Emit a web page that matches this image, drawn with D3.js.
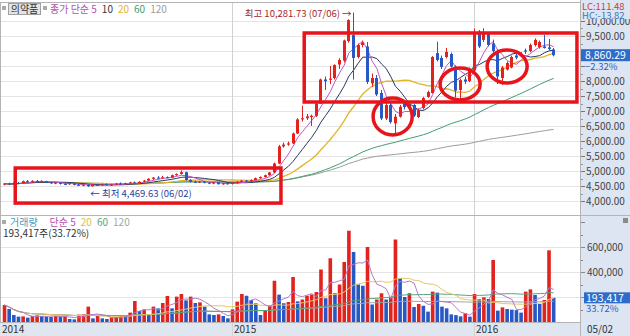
<!DOCTYPE html>
<html>
<head>
<meta charset="utf-8">
<script src="https://cdn.jsdelivr.net/npm/d3@7"></script>
<style>
  body { margin: 0; background: #fff; }
  svg { display: block; font-family: "Noto Sans CJK KR", "Noto Sans", sans-serif; }
</style>
</head>
<body>
<div id="chart"></div>
<script>
// weekly candles, 2014-01-27 .. 2016-05-02
const firstWeek = new Date(2014, 0, 27);
const lastWeek = new Date(2016, 4, 2);

const open = [4560,4580,4550,4600,4590,4660,4640,4670,4650,4660,4620,4590,4610,4570,4560,4590,4540,4520,4540,4490,
  4540,4520,4560,4530,4550,4580,4570,4590,4620,4600,4640,4680,4740,4780,4770,4790,4780,4860,4900,4960,
  4700,4640,4620,4650,4610,4580,4620,4560,4590,4570,4600,4640,4680,4650,4700,4760,4800,4860,4950,5250,
  5820,5880,5920,6250,6720,6760,6800,6840,7250,8050,8040,8100,8550,8680,9330,9530,8800,9200,9150,7920,
  8100,7600,6750,7200,6590,6810,7250,7130,7200,6800,7100,7470,7600,8930,8770,8800,8900,8480,7700,8050,
  8000,8350,9650,9370,9560,9250,9000,8100,8380,8450,8850,8900,9020,9000,9200,9130,9150,9120,9050];
const high = [4600,4610,4620,4640,4680,4700,4690,4700,4690,4670,4640,4630,4620,4600,4610,4600,4570,4560,4560,4560,
  4570,4580,4590,4570,4600,4620,4610,4640,4650,4660,4700,4760,4800,4830,4840,4820,4880,4920,5020,4980,
  4730,4680,4670,4670,4630,4640,4640,4610,4610,4620,4660,4700,4700,4720,4780,4820,4880,4970,5280,5870,
  5950,5980,6280,6760,7180,6900,6880,7280,8080,8150,8500,8560,8760,9380,10060,10281.73,9250,9350,9300,8250,
  8200,7700,7300,7280,6900,7200,7350,7260,7230,7080,7470,7680,8830,9310,8850,9100,8950,8520,8080,8150,
  8450,9750,9700,9760,9600,9380,9050,8500,8650,8850,8920,8960,9080,9250,9420,9350,9530,9400,9100];
const low = [4520,4530,4540,4570,4580,4620,4610,4630,4620,4600,4570,4560,4550,4530,4540,4520,4500,4490,4469.63,4480,
  4500,4510,4520,4500,4530,4550,4540,4570,4580,4590,4620,4660,4700,4740,4750,4760,4770,4840,4880,4680,
  4620,4600,4600,4590,4560,4560,4550,4540,4550,4550,4580,4620,4630,4640,4690,4740,4780,4840,4930,5230,
  5780,5840,5900,6230,6650,6700,6500,6800,7230,7700,7900,8050,8400,8620,9280,8050,8750,9120,7900,7800,
  7500,6700,6700,6580,6256,6780,7050,7080,6800,6760,7050,7440,7580,8650,8400,8750,8450,7450,7400,7900,
  7960,8300,9100,9300,9150,8950,7900,7870,8350,8420,8720,8800,8900,8960,9150,9080,9080,9030,8820];
const close = [4580,4550,4600,4590,4660,4640,4670,4650,4660,4620,4590,4610,4570,4560,4590,4540,4520,4540,4490,4540,
  4520,4560,4530,4550,4580,4570,4590,4620,4600,4640,4680,4740,4780,4770,4790,4780,4860,4900,4960,4700,
  4640,4620,4650,4610,4580,4620,4560,4590,4570,4600,4640,4680,4650,4700,4760,4800,4860,4950,5250,5820,
  5880,5920,6250,6720,6760,6820,6840,7250,8050,7990,8080,8530,8700,9350,10030,8770,9200,9270,7970,8100,
  7550,6750,7200,6630,6810,7140,7130,7200,6850,7030,7430,7630,8800,8700,8470,8970,8480,7680,8030,7980,
  8400,9600,9150,9590,9200,9000,8150,8450,8600,8800,8780,8830,8980,9200,9370,9300,9100,9070.7,8860.29];
const volume = [136000,104000,56000,43000,45000,35000,48000,53000,48000,43000,40000,48000,43000,45000,24000,21000,59000,61000,123000,29000,
  48000,29000,24000,37000,39000,53000,51000,75000,168000,88000,101000,56000,123000,109000,152000,208000,109000,203000,224000,173000,
  203000,152000,157000,123000,61000,56000,61000,48000,29000,101000,163000,224000,210000,176000,149000,56000,96000,136000,330000,219000,
  150000,160000,360000,165000,180000,210000,220000,240000,420000,190000,510000,230000,300000,480000,730000,560000,300000,290000,600000,140000,
  180000,230000,180000,200000,660000,350000,200000,230000,120000,144000,130000,83000,243000,235000,123000,109000,61000,55000,45000,69000,
  43000,224000,184000,197000,184000,496000,91000,117000,104000,99000,95000,75000,243000,261000,216000,144000,176000,573594,193417];

const priceMA = [5, 10, 20, 60, 120];
const priceMAColors = ["#c455c4", "#26385f", "#e2b428", "#3f9e6e", "#9c9c9c"];
const volMA = [5, 20, 60, 120];
const volMAColors = ["#b57ac6", "#e6c766", "#58a57a", "#a4a4a4"];
const priceTicks = d3.range(4000, 10001, 500);
const volTicks = [200000, 400000, 600000];
const sectorName = "의약품";
const lcText = "LC:111.48";
const hcText = "HC:-13.82";

// hand-drawn red marks (week index, price)
const markBoxes = [
  { from: 2.3, to: 59.4, lo: 3930, hi: 5100 },
  { from: 64.4, to: 123, lo: 7300, hi: 9600 }
];
const markRings = [
  { at: 83.4, price: 6817, rx: 4.2, ry: 615 },
  { at: 97.9, price: 7900, rx: 4.3, ry: 530 },
  { at: 108, price: 8483, rx: 4.3, ry: 550 }
];

const W = 630, H = 336, plotRight = 580;
const priceTop = 3, priceBottom = 215, volTop = 216, volBottom = 322;
const up = "#e2231d", down = "#2758c6";
const panelBg = "#dce5f1";

const weeks = d3.timeMonday.range(firstWeek, d3.timeDay.offset(lastWeek, 1));
const n = weeks.length;
const idx = d3.range(n);

const x = d3.scaleBand().domain(idx).range([2.2, 556]).paddingInner(0.3).paddingOuter(0.15);
const cx = i => x(i) + x.bandwidth() / 2;
const xi = d3.scaleLinear().domain([0, n - 1]).range([cx(0), cx(n - 1)]);
const y = d3.scaleLinear().domain([4000, 10000]).range([201, 21]);
const yv = d3.scaleLinear().domain([0, 600000]).range([volBottom, 247]);

function sma(arr, p) {
  return arr.map((d, i) => d3.mean(arr.slice(Math.max(0, i - p + 1), i + 1)));
}

const svg = d3.select("#chart").append("svg").attr("width", W).attr("height", H);
const defs = svg.append("defs");
defs.append("clipPath").attr("id", "clipP").append("rect")
  .attr("x", 0).attr("y", priceTop).attr("width", plotRight).attr("height", priceBottom - priceTop);
defs.append("clipPath").attr("id", "clipV").append("rect")
  .attr("x", 0).attr("y", volTop).attr("width", plotRight).attr("height", volBottom - volTop);

svg.append("rect").attr("width", W).attr("height", H).attr("fill", "#fff");
svg.append("rect").attr("x", plotRight).attr("y", 0).attr("width", W - plotRight).attr("height", H).attr("fill", panelBg);
svg.append("rect").attr("x", 0).attr("y", volBottom).attr("width", plotRight).attr("height", H - volBottom).attr("fill", "#dfe6ef");

// grid
svg.append("g").selectAll("line").data(priceTicks).join("line")
  .attr("x1", 0).attr("x2", plotRight)
  .attr("y1", d => Math.round(y(d)) + 0.5).attr("y2", d => Math.round(y(d)) + 0.5)
  .attr("stroke", "#e4e4e4");
svg.append("g").selectAll("line").data(volTicks).join("line")
  .attr("x1", 0).attr("x2", plotRight)
  .attr("y1", d => Math.round(yv(d)) + 0.5).attr("y2", d => Math.round(yv(d)) + 0.5)
  .attr("stroke", "#e4e4e4");

const yearIdx = idx.filter(i => i > 0 && weeks[i].getFullYear() !== weeks[i - 1].getFullYear());
svg.append("g").selectAll("line").data(yearIdx).join("line")
  .attr("x1", i => Math.round(cx(i) - 1) + 0.5).attr("x2", i => Math.round(cx(i) - 1) + 0.5)
  .attr("y1", priceTop).attr("y2", H)
  .attr("stroke", "#d2d2d2");

// frame lines
[[0, 2.5, plotRight, 2.5], [0, 215.5, W, 215.5], [0, volBottom + 0.5, plotRight, volBottom + 0.5], [plotRight + 0.5, 0, plotRight + 0.5, H], [0.5, 2.5, 0.5, volBottom]]
  .forEach(l => svg.append("line").attr("x1", l[0]).attr("y1", l[1]).attr("x2", l[2]).attr("y2", l[3]).attr("stroke", "#b4b4b4"));

// price moving averages
const gp = svg.append("g").attr("clip-path", "url(#clipP)");
const lineP = d3.line().x((d, i) => cx(i)).y(d => y(d));
priceMA.slice().reverse().forEach((p, k) => {
  const ci = priceMA.length - 1 - k;
  gp.append("path").datum(sma(close, p)).attr("d", lineP)
    .attr("fill", "none").attr("stroke", priceMAColors[ci]).attr("stroke-width", p === 20 ? 1.3 : 1);
});

// candles
const bodyX = i => Math.round(cx(i) - 1.5);
gp.selectAll("line.wick").data(idx).join("line").attr("class", "wick")
  .attr("x1", i => bodyX(i) + 1.5).attr("x2", i => bodyX(i) + 1.5)
  .attr("y1", i => y(high[i])).attr("y2", i => y(low[i]))
  .attr("stroke", i => close[i] >= open[i] ? up : down);
gp.selectAll("rect.body").data(idx).join("rect").attr("class", "body")
  .attr("x", bodyX).attr("width", 3)
  .attr("y", i => y(Math.max(open[i], close[i])))
  .attr("height", i => Math.max(1, Math.abs(y(open[i]) - y(close[i]))))
  .attr("fill", i => close[i] >= open[i] ? up : down);

// volume bars
const gv = svg.append("g").attr("clip-path", "url(#clipV)");
gv.selectAll("rect").data(idx).join("rect")
  .attr("x", i => cx(i) - 1.8).attr("width", 3.6)
  .attr("y", i => yv(volume[i])).attr("height", i => volBottom - yv(volume[i]))
  .attr("fill", i => i === 0 || volume[i] >= volume[i - 1] ? up : down);
const lineV = d3.line().x((d, i) => cx(i)).y(d => yv(d));
volMA.slice().reverse().forEach((p, k) => {
  const ci = volMA.length - 1 - k;
  gv.append("path").datum(sma(volume, p)).attr("d", lineV)
    .attr("fill", "none").attr("stroke", volMAColors[ci]).attr("stroke-width", 1);
});

// red marks
const marks = svg.append("g").attr("fill", "none").attr("stroke", "#e8141c").attr("stroke-width", 3.5);
marks.selectAll("rect").data(markBoxes).join("rect")
  .attr("x", d => xi(d.from)).attr("width", d => xi(d.to) - xi(d.from))
  .attr("y", d => y(d.hi)).attr("height", d => y(d.lo) - y(d.hi));
marks.selectAll("ellipse").data(markRings).join("ellipse")
  .attr("cx", d => xi(d.at)).attr("cy", d => y(d.price))
  .attr("rx", d => xi(d.rx) - xi(0)).attr("ry", d => y(0) - y(d.ry));

// high / low labels
const fmtP = d3.format(",.2f");
const fmtD = d3.timeFormat("%m/%d");
const iHi = d3.maxIndex(high), iLo = d3.minIndex(low);
svg.append("text").attr("x", cx(iHi) - 2).attr("y", y(high[iHi]) + 4)
  .attr("text-anchor", "end").attr("font-size", 9.5).attr("fill", "#a2282a")
  .text(`최고 ${fmtP(high[iHi])} (${fmtD(weeks[iHi])}) →`);
svg.append("text").attr("x", cx(iLo) + 2).attr("y", y(low[iLo]) + 10)
  .attr("font-size", 9.5).attr("fill", "#2a3f9c")
  .text(`← 최저 ${fmtP(low[iLo])} (${fmtD(weeks[iLo])})`);

// right price axis
const lastP = close[n - 1], lastY = y(lastP);
const ay = svg.append("g").attr("transform", `translate(${plotRight + 1},0)`)
  .attr("font-size", 10).attr("fill", "#444");
ay.selectAll("line.maj").data(priceTicks).join("line").attr("class", "maj")
  .attr("x1", 0).attr("x2", 4).attr("y1", d => Math.round(y(d)) + 0.5).attr("y2", d => Math.round(y(d)) + 0.5)
  .attr("stroke", "#777");
ay.selectAll("line.min").data(priceTicks.slice(0, -1).map(d => d + 250)).join("line").attr("class", "min")
  .attr("x1", 0).attr("x2", 2).attr("y1", d => Math.round(y(d)) + 0.5).attr("y2", d => Math.round(y(d)) + 0.5)
  .attr("stroke", "#999");
ay.selectAll("text").data(priceTicks.filter(d => Math.abs(y(d) - lastY) > 8 && !(y(d) > lastY && y(d) - lastY < 16))).join("text")
  .attr("x", 5).attr("y", d => y(d)).attr("dy", "0.36em").text(d => fmtP(d));

// LC / HC
svg.append("rect").attr("x", plotRight + 1).attr("y", 11).attr("width", W - plotRight - 1).attr("height", 8).attr("fill", panelBg);
svg.append("text").attr("x", plotRight + 2).attr("y", 10).attr("font-size", 9.5).attr("fill", "#d23a3a").text(lcText);
svg.append("text").attr("x", plotRight + 2).attr("y", 18.5).attr("font-size", 9.5).attr("fill", "#3f73b8").text(hcText);

// current price
svg.append("rect").attr("x", plotRight + 1).attr("y", lastY - 6).attr("width", W - plotRight - 1).attr("height", 12).attr("fill", "#2e6cc9");
svg.append("text").attr("x", plotRight + 5).attr("y", lastY).attr("dy", "0.36em").attr("font-size", 10.5).attr("fill", "#fff").text(fmtP(lastP));
svg.append("text").attr("x", plotRight + 5).attr("y", lastY + 11.5).attr("dy", "0.36em").attr("font-size", 9.5).attr("fill", "#2f5fc0")
  .text(d3.format(".2f")((lastP / close[n - 2] - 1) * 100) + "%");

// right volume axis
const lastV = volume[n - 1], lastVY = yv(lastV);
const fmtV = d3.format(",");
const av = svg.append("g").attr("transform", `translate(${plotRight + 1},0)`).attr("font-size", 10).attr("fill", "#444");
av.selectAll("line").data(d3.range(100000, 800001, 100000)).join("line")
  .attr("x1", 0).attr("x2", d => d % 200000 === 0 ? 4 : 2)
  .attr("y1", d => Math.round(yv(d)) + 0.5).attr("y2", d => Math.round(yv(d)) + 0.5)
  .attr("stroke", "#888");
av.selectAll("text").data(volTicks.filter(d => Math.abs(yv(d) - lastVY) > 8)).join("text")
  .attr("x", 6).attr("y", d => yv(d)).attr("dy", "0.36em").text(d => fmtV(d));
svg.append("rect").attr("x", plotRight + 4).attr("y", lastVY - 5.5).attr("width", W - plotRight - 4).attr("height", 11).attr("fill", "#2e6cc9");
svg.append("text").attr("x", plotRight + 6).attr("y", lastVY).attr("dy", "0.36em").attr("font-size", 10.5).attr("fill", "#fff").text(fmtV(lastV));
svg.append("text").attr("x", plotRight + 6).attr("y", lastVY + 11).attr("dy", "0.36em").attr("font-size", 9.5).attr("fill", "#2f5fc0")
  .text(d3.format(".2f")(lastV / volume[n - 2] * 100) + "%");

// time axis labels
const yearLabelIdx = [0].concat(yearIdx);
svg.append("g").attr("font-size", 10).attr("fill", "#333").selectAll("text").data(yearLabelIdx).join("text")
  .attr("x", i => i === 0 ? 2 : Math.round(cx(i) - 1) + 2).attr("y", 333)
  .text(i => weeks[i].getFullYear());
svg.append("text").attr("x", plotRight + 7).attr("y", 333).attr("font-size", 10).attr("fill", "#333").text(fmtD(weeks[n - 1]));

// headers
function icon(xp, yp) {
  svg.append("rect").attr("x", xp).attr("y", yp).attr("width", 4).attr("height", 4).attr("fill", "#aaa");
}
icon(2, 6);
svg.append("rect").attr("x", 8.5).attr("y", 3.5).attr("width", 32).attr("height", 11).attr("fill", "#e4e4e4").attr("stroke", "#a0a0a0");
svg.append("text").attr("x", 24.5).attr("y", 12.5).attr("text-anchor", "middle").attr("font-size", 10).attr("fill", "#333").text(sectorName);
icon(43, 6);
const head = svg.append("text").attr("x", 50).attr("y", 12.5).attr("font-size", 10);
head.append("tspan").attr("fill", "#b24fae").text("종가 단순 " + priceMA[0]);
priceMA.slice(1).forEach((p, k) => head.append("tspan").attr("dx", 5).attr("fill", k === 0 ? "#333" : priceMAColors[k + 1]).text(p));

icon(2, 220);
const vhead = svg.append("text").attr("x", 10).attr("y", 226).attr("font-size", 10);
vhead.append("tspan").attr("fill", "#4a9cc4").text("거래량");
vhead.append("tspan").attr("dx", 12).attr("fill", "#b24fae").text("단순 " + volMA[0]);
volMA.slice(1).forEach((p, k) => vhead.append("tspan").attr("dx", 5).attr("fill", volMAColors[k + 1] === "#e6c766" ? "#d9bf4a" : volMAColors[k + 1]).text(p));
svg.append("text").attr("x", 3).attr("y", 237).attr("font-size", 10).attr("fill", "#333")
  .text(`${fmtV(lastV)}주(${d3.format(".2f")(lastV / volume[n - 2] * 100)}%)`);
svg.append("rect").attr("x", 623).attr("y", 218).attr("width", 5).attr("height", 5).attr("fill", "#8a8a8a");
</script>
</body>
</html>
